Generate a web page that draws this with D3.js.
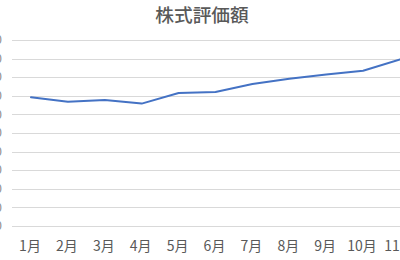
<!DOCTYPE html>
<html><head><meta charset="utf-8">
<script src="https://cdn.jsdelivr.net/npm/d3@7"></script>
<style>html,body{margin:0;padding:0;background:#fff;overflow:hidden}</style>
</head><body>
<script>
const months = ["1月","2月","3月","4月","5月","6月","7月","8月","9月","10月","11月"];
const values = [692000,668000,677000,658000,715000,720000,763000,792000,815000,835000,895000];
const yTicks = [0,100000,200000,300000,400000,500000,600000,700000,800000,900000,1000000];
const title = "株式評価額";

const W = 400, H = 260;
const svg = d3.select("body").append("svg").attr("width", W).attr("height", H)
  .style("font-family", "'Noto Sans CJK JP','Noto Sans',sans-serif");

const x = d3.scalePoint().domain(months).range([31, 400]);
const y = d3.scaleLinear().domain([0, 1000000]).range([226, 40]);

// gridlines
svg.append("g").selectAll("line").data(yTicks).join("line")
  .attr("x1", 12).attr("x2", W)
  .attr("y1", d => Math.round(y(d)) + 0.5).attr("y2", d => Math.round(y(d)) + 0.5)
  .attr("stroke", "#d9d9d9").attr("stroke-width", 1);

// y labels (cropped off at left, as in the reference)
svg.append("g").selectAll("text").data(yTicks).join("text")
  .attr("x", 2).attr("y", d => y(d)).attr("dy", "0.35em")
  .attr("text-anchor", "end").attr("font-size", 12).attr("fill", "#8a8a8a")
  .text(d => d3.format(",")(d));

// x labels
svg.append("g").selectAll("text").data(months).join("text")
  .attr("x", d => x(d) - 1).attr("y", 251)
  .attr("text-anchor", "middle").attr("font-size", 14).attr("fill", "#595959")
  .text(d => d);

// line
const line = d3.line().x((d, i) => x(months[i])).y(d => y(d));
svg.append("path").datum(values).attr("d", line)
  .attr("fill", "none").attr("stroke", "#4472c4").attr("stroke-width", 2)
  .attr("stroke-linejoin", "round").attr("stroke-linecap", "round");

// title
svg.append("text").attr("x", 202).attr("y", 22).attr("text-anchor", "middle")
  .attr("font-size", 18.7).attr("fill", "#595959").attr("font-weight", 500)
  .text(title);
</script>
</body></html>
